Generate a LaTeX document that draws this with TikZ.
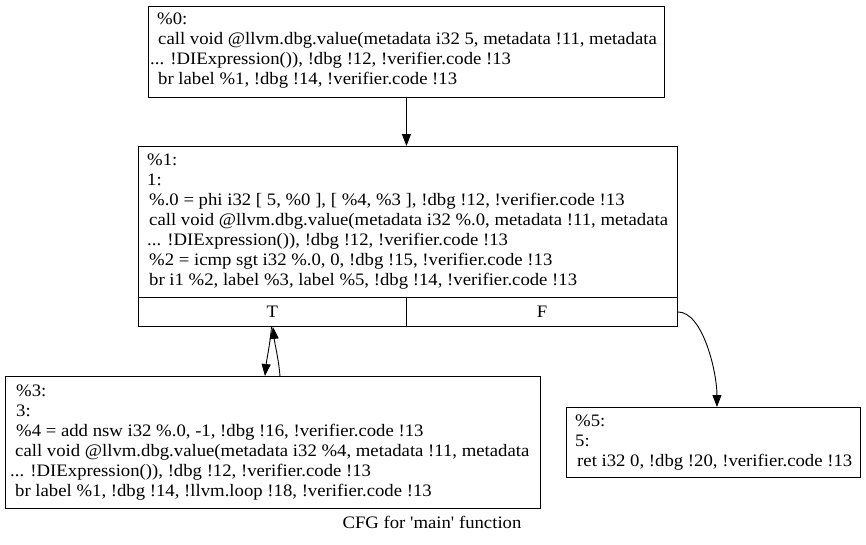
\documentclass[tikz,border=0pt]{standalone}
\usepackage{fontspec}
\setmainfont{Liberation Serif}[Ligatures=TeXOff, FakeStretch=1.07]
\usetikzlibrary{arrows.meta}
\begin{document}
\begin{tikzpicture}[x=1pt,y=-1pt,
  box/.style={draw=black, line width=0.9pt, inner sep=0pt, anchor=north west},
  port/.style={box, font=\fontsize{17.5}{20}\selectfont},
  txt/.style={anchor=west, align=left, inner sep=0pt, font=\fontsize{17.5}{20}\selectfont},
  edge/.style={line width=0.9pt, -{Triangle[length=12pt,width=9pt]}}]
\useasboundingbox (0,0) rectangle (866,544);
% block %0
\node[box, minimum width=516pt, minimum height=91pt] (b0) at (148,6) {};
\node[txt] (t0) at ([yshift=1pt]b0.west) {\hspace*{9pt}\%0:\\
\hspace*{10pt}call void @llvm.dbg.value(metadata i32 5, metadata !11, metadata\\
\hspace*{2pt}... !DIExpression()), !dbg !12, !verifier.code !13\\
\hspace*{10pt}br label \%1, !dbg !14, !verifier.code !13};
% block %1
\node[box, minimum width=539pt, minimum height=151pt] (b1) at (138,146) {};
\node[txt] (t1) at (b1.west) {\hspace*{9pt}\%1:\\
\hspace*{9pt}1:\\
\hspace*{11pt}\%.0 = phi i32 [ 5, \%0 ], [ \%4, \%3 ], !dbg !12, !verifier.code !13\\
\hspace*{11pt}call void @llvm.dbg.value(metadata i32 \%.0, metadata !11, metadata\\
\hspace*{9pt}... !DIExpression()), !dbg !12, !verifier.code !13\\
\hspace*{11pt}\%2 = icmp sgt i32 \%.0, 0, !dbg !15, !verifier.code !13\\
\hspace*{11pt}br i1 \%2, label \%3, label \%5, !dbg !14, !verifier.code !13};
\node[port, minimum width=268pt, minimum height=29pt] (b1T) at (138,297) {T};
\node[port, minimum width=271pt, minimum height=29pt] (b1F) at (406,297) {F};
% block %3
\node[box, minimum width=535pt, minimum height=132pt] (b3) at (5,376) {};
\node[txt] (t3) at (b3.west) {\hspace*{11pt}\%3:\\
\hspace*{11pt}3:\\
\hspace*{11pt}\%4 = add nsw i32 \%.0, -1, !dbg !16, !verifier.code !13\\
\hspace*{10pt}call void @llvm.dbg.value(metadata i32 \%4, metadata !11, metadata\\
\hspace*{5pt}... !DIExpression()), !dbg !12, !verifier.code !13\\
\hspace*{10pt}br label \%1, !dbg !14, !llvm.loop !18, !verifier.code !13};
% block %5
\node[box, minimum width=294pt, minimum height=70pt] (b5) at (566,407) {};
\node[txt] (t5) at (b5.west) {\hspace*{9pt}\%5:\\
\hspace*{9pt}5:\\
\hspace*{11pt}ret i32 0, !dbg !20, !verifier.code !13};
% caption
\node[txt, anchor=center] (cap) at (432,522) {CFG for 'main' function};
% edges
\draw[edge] (b0.south) -- (b0.south |- b1.north);
\draw[edge] ([xshift=-1pt]b1T.south) .. controls +(-1,15) and +(1.5,-15) .. ([xshift=-8pt]b3.north);
\draw[edge] ([xshift=7pt]b3.north) .. controls +(-1,-15) and +(1.5,15) .. ([xshift=0.5pt]b1T.south);
\draw[edge] (b1F.east) .. controls +(25,0) and +(0,-35) .. ([xshift=3.5pt]b5.north);
\end{tikzpicture}
\end{document}
